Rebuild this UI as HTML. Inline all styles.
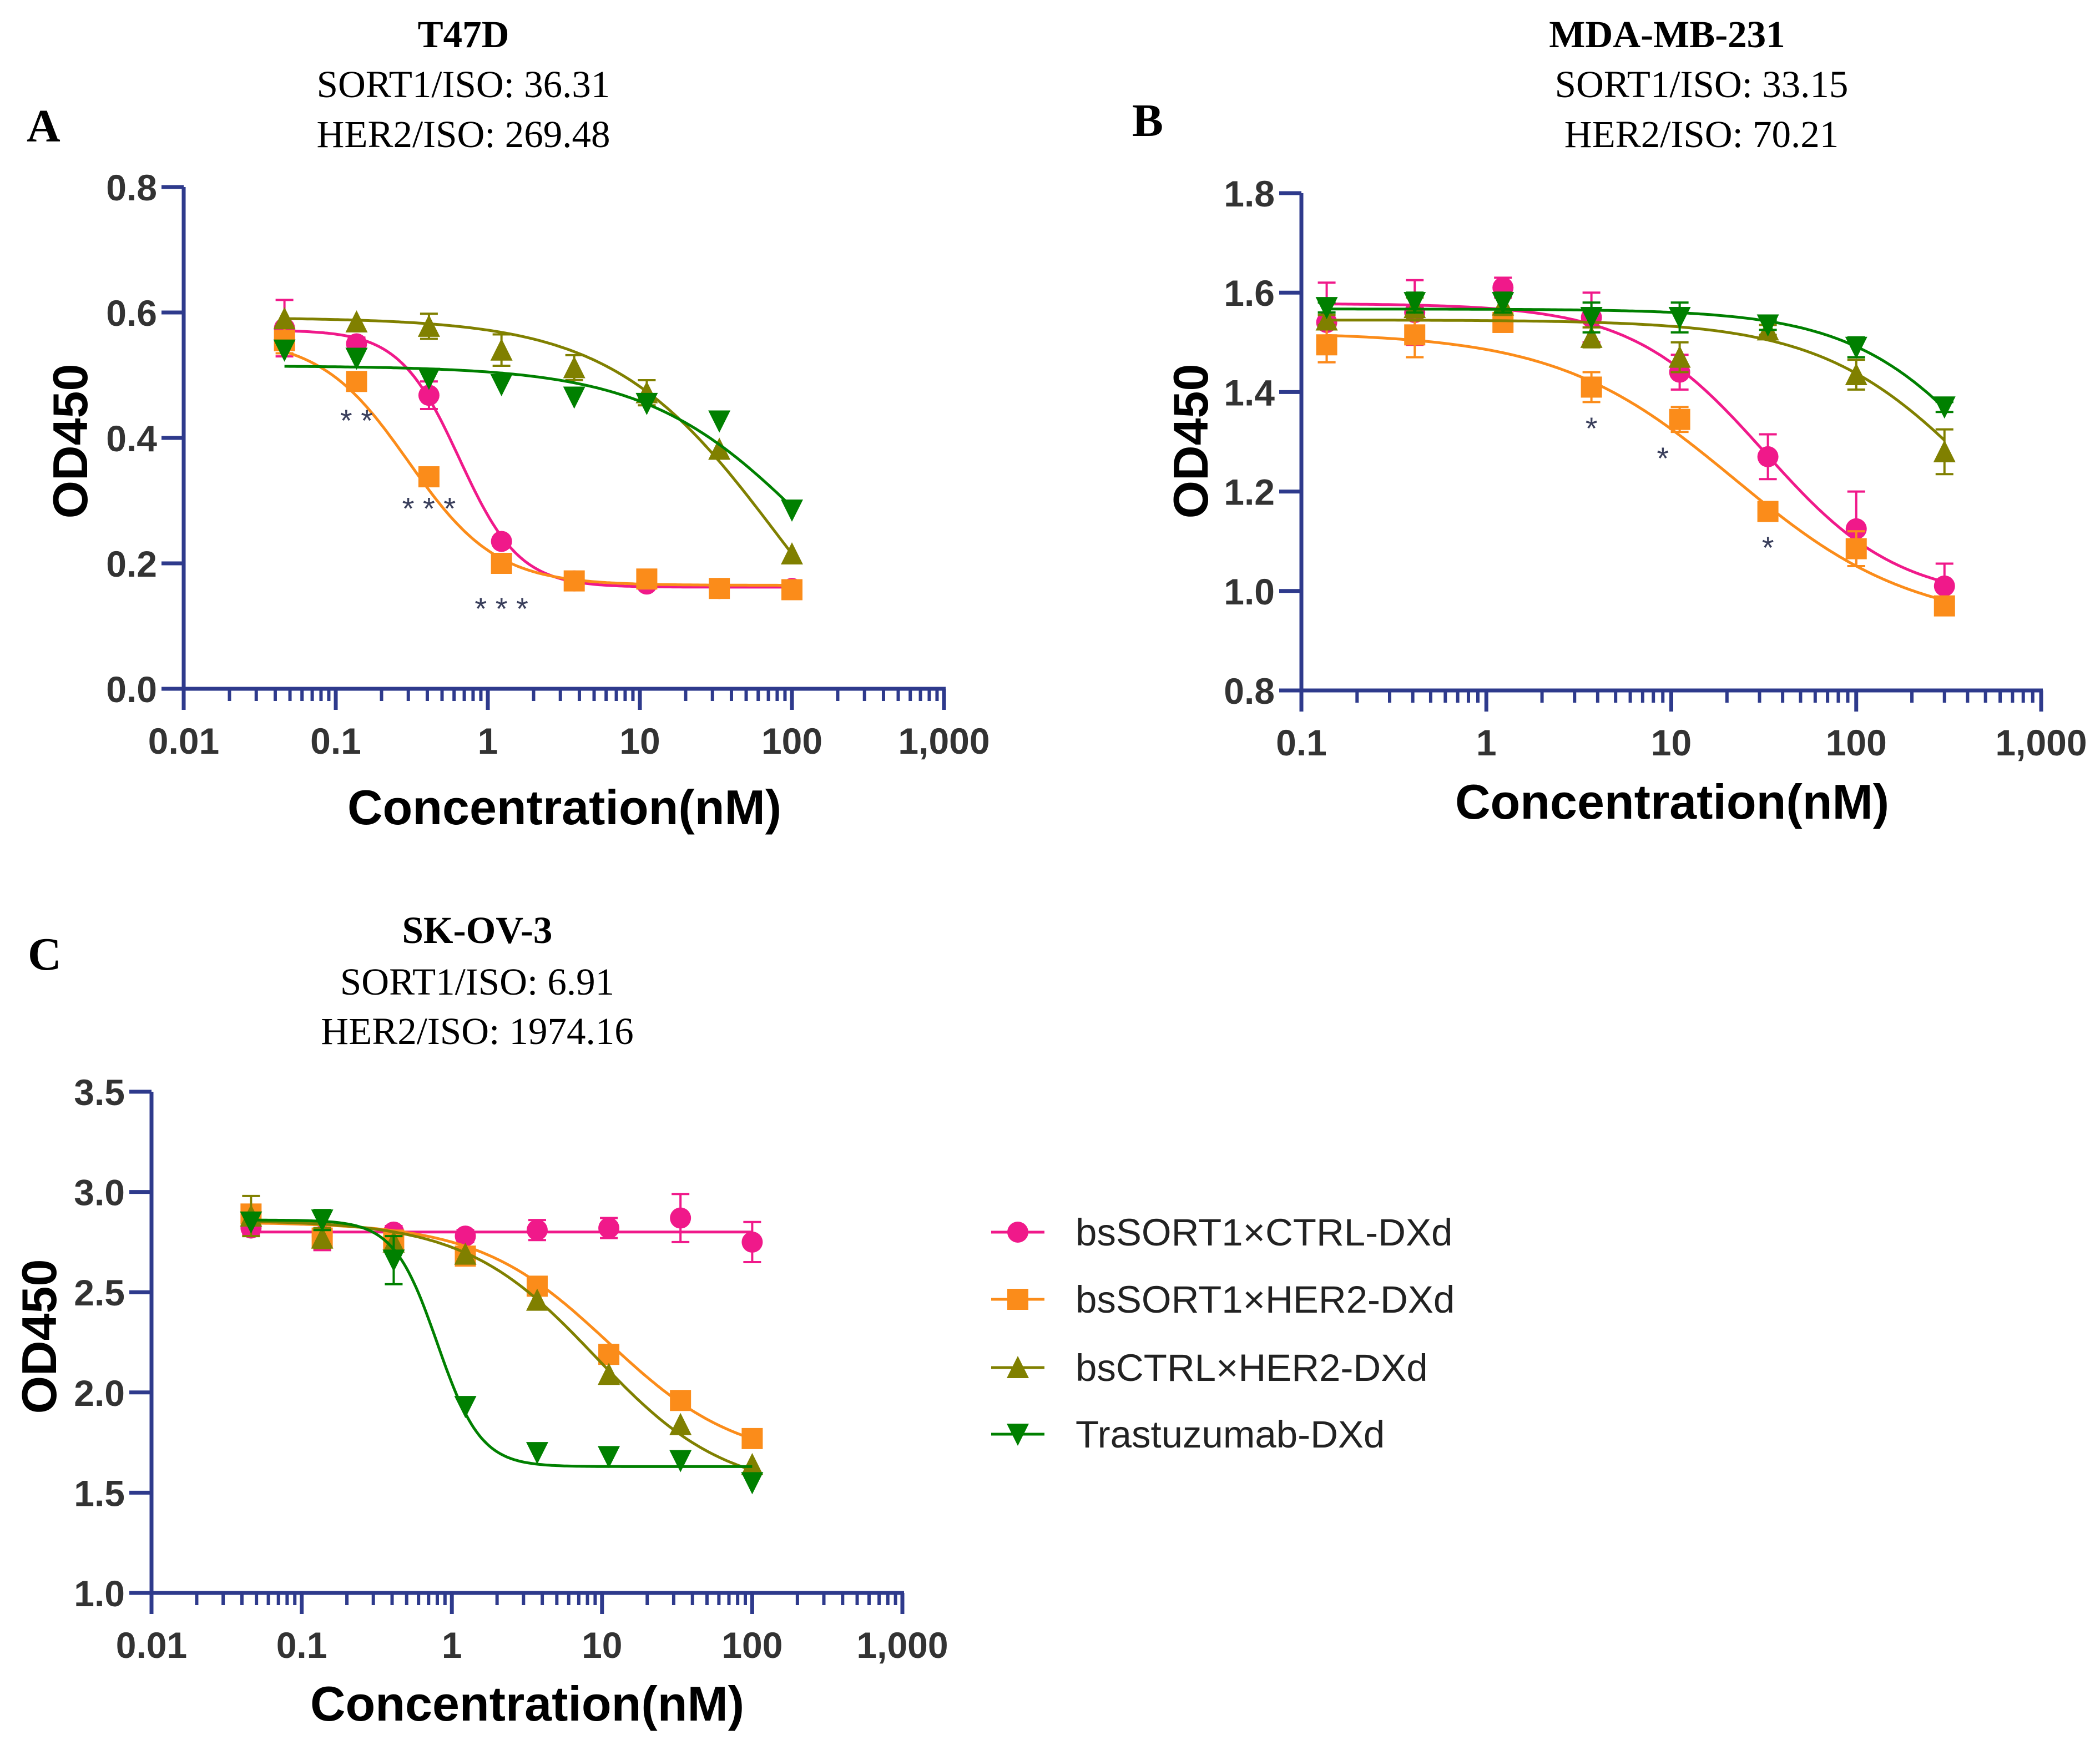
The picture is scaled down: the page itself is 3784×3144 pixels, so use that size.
<!DOCTYPE html>
<html><head><meta charset="utf-8">
<style>
html,body{margin:0;padding:0;background:#fff;}
svg{display:block;}
.tick{font-family:"Liberation Sans",Arial,sans-serif;font-weight:bold;font-size:66px;fill:#333;}
.axt{font-family:"Liberation Sans",Arial,sans-serif;font-weight:bold;font-size:88px;fill:#000;}
.ser{font-family:"Liberation Serif","Times New Roman",serif;font-size:69px;fill:#000;}
.serb{font-family:"Liberation Serif","Times New Roman",serif;font-size:69px;font-weight:bold;fill:#000;}
.let{font-family:"Liberation Serif","Times New Roman",serif;font-size:84px;font-weight:bold;fill:#000;}
.leg{font-family:"Liberation Sans",Arial,sans-serif;font-size:69px;fill:#222;}
.star{font-family:"Liberation Sans",Arial,sans-serif;font-size:56px;fill:#3a3f5c;}
</style></head>
<body>
<svg id="fig" width="3784" height="3144" viewBox="0 0 3784 3144" xmlns="http://www.w3.org/2000/svg">
<text class="let" x="48" y="255">A</text>
<text class="serb" x="835" y="85" text-anchor="middle">T47D</text>
<text class="ser" x="835" y="175" text-anchor="middle">SORT1/ISO: 36.31</text>
<text class="ser" x="835" y="265" text-anchor="middle">HER2/ISO: 269.48</text>
<text class="let" x="2040" y="245">B</text>
<text class="serb" x="3004" y="85" text-anchor="middle">MDA-MB-231</text>
<text class="ser" x="3066" y="175" text-anchor="middle">SORT1/ISO: 33.15</text>
<text class="ser" x="3066" y="265" text-anchor="middle">HER2/ISO: 70.21</text>
<text class="let" x="50" y="1747">C</text>
<text class="serb" x="860" y="1699" text-anchor="middle">SK-OV-3</text>
<text class="ser" x="860" y="1792" text-anchor="middle">SORT1/ISO: 6.91</text>
<text class="ser" x="860" y="1881" text-anchor="middle">HER2/ISO: 1974.16</text>
</svg>
<script>
// ---- data ----
const seriesNames = ["bsSORT1×CTRL-DXd","bsSORT1×HER2-DXd","bsCTRL×HER2-DXd","Trastuzumab-DXd"];
const seriesColors = ["#f0198a","#fb8c1a","#808000","#008000"];
const seriesShapes = ["circle","square","up","down"];

const concA = [0.046,0.137,0.41,1.23,3.7,11.1,33.3,100];
const aPink   = [0.575,0.55,0.468,0.235,0.172,0.167,0.16,0.16];
const aOrange = [0.555,0.49,0.338,0.2,0.172,0.175,0.16,0.158];
const aOlive  = [0.59,0.585,0.578,0.54,0.512,0.472,0.382,0.215];
const aGreen  = [0.54,0.527,0.495,0.485,0.465,0.455,0.427,0.285];
const aErrPink   = [0.045,0.01,0.022,0,0,0,0,0];
const aErrOrange = [0.02,0,0,0,0,0,0,0];
const aErrOlive  = [0,0,0.02,0.025,0.02,0.02,0,0];
const aErrGreen  = [0,0,0,0,0,0,0,0];
// 4PL fits: [top, bottom, ec50, hill]
const aFitPink=[0.572,0.162,0.65,2.2], aFitOrange=[0.56,0.165,0.3,1.5], aFitOlive=[0.592,-0.1,80,0.8], aFitGreen=[0.515,0,137,0.8];

const concB = [0.137,0.41,1.23,3.7,11.1,33.3,100,300];
const bPink   = [1.54,1.56,1.61,1.55,1.44,1.27,1.125,1.01];
const bOrange = [1.495,1.515,1.54,1.41,1.345,1.16,1.085,0.97];
const bOlive  = [1.545,1.57,1.575,1.51,1.47,1.525,1.435,1.28];
const bGreen  = [1.57,1.58,1.58,1.55,1.55,1.535,1.49,1.37];
const bErrPink   = [0.08,0.065,0.02,0.05,0.035,0.045,0.075,0.045];
const bErrOrange = [0.035,0.045,0.01,0.03,0.025,0.01,0.035,0.01];
const bErrOlive  = [0.01,0.02,0.02,0.02,0.03,0.01,0.03,0.045];
const bErrGreen  = [0.01,0.02,0.02,0.03,0.03,0.01,0.02,0.01];
const bFitPink=[1.578,0.98,32,1.2], bFitOrange=[1.52,0.93,22,0.9], bFitOlive=[1.545,0.9,500,1.0], bFitGreen=[1.567,0.9,650,1.1];

const concC = [0.046,0.137,0.41,1.23,3.7,11.1,33.3,100];
const cPink   = [2.82,2.78,2.8,2.78,2.81,2.82,2.87,2.75];
const cOrange = [2.89,2.77,2.76,2.68,2.53,2.19,1.96,1.77];
const cOlive  = [2.88,2.77,2.75,2.69,2.46,2.09,1.84,1.64];
const cGreen  = [2.85,2.86,2.66,1.93,1.7,1.68,1.66,1.55];
const cErrPink   = [0.03,0.07,0.03,0.03,0.05,0.05,0.12,0.1];
const cErrOrange = [0.03,0.05,0,0,0,0,0,0];
const cErrOlive  = [0.1,0.05,0,0,0,0,0,0];
const cErrGreen  = [0,0.05,0.12,0,0,0,0,0];
const cFitPink=[2.8,2.8,1,1], cFitOrange=[2.85,1.65,11,1.0], cFitOlive=[2.86,1.5,9,1.0], cFitGreen=[2.86,1.63,0.8,3.0];

const yTicksA=[0,0.2,0.4,0.6,0.8], yLabelsA=["0.0","0.2","0.4","0.6","0.8"];
const yTicksB=[0.8,1.0,1.2,1.4,1.6,1.8], yLabelsB=["0.8","1.0","1.2","1.4","1.6","1.8"];
const yTicksC=[1.0,1.5,2.0,2.5,3.0,3.5], yLabelsC=["1.0","1.5","2.0","2.5","3.0","3.5"];
const xDecA=[-2,-1,0,1,2,3], xLabelsA=["0.01","0.1","1","10","100","1,000"];
const xDecB=[-1,0,1,2,3], xLabelsB=["0.1","1","10","100","1,000"];
const xDecC=[-2,-1,0,1,2,3], xLabelsC=["0.01","0.1","1","10","100","1,000"];

const starsA=[{x:0.137,y:0.43,t:"* *"},{x:0.41,y:0.29,t:"* * *"},{x:1.23,y:0.13,t:"* * *"}];
const starsB=[{x:3.7,y:1.33,t:"*"},{x:9,y:1.27,t:"*"},{x:33.3,y:1.09,t:"*"}];

// ---- drawing ----
const NS="http://www.w3.org/2000/svg";
const svg=document.getElementById('fig');
const AX="#2e3a8c";
function el(tag,attrs,parent){const e=document.createElementNS(NS,tag);for(const k in attrs)e.setAttribute(k,attrs[k]);(parent||svg).appendChild(e);return e;}
function fourPL(p,x){return p[1]+(p[0]-p[1])/(1+Math.pow(x/p[2],p[3]));}

function panel(cfg){
  const g=el('g',{});
  
  
  const lx0=cfg.xDec[0], lx1=cfg.xDec[cfg.xDec.length-1];
  const X=v=>cfg.xL+(Math.log10(v)-lx0)/(lx1-lx0)*(cfg.xR-cfg.xL);
  const y0=cfg.yTicks[0], y1=cfg.yTicks[cfg.yTicks.length-1];
  const Y=v=>cfg.yB+(v-y0)/(y1-y0)*(cfg.yT-cfg.yB);
  const ya=el('line',{x1:cfg.xL,y1:cfg.yT,x2:cfg.xL,y2:cfg.yB+3.5,stroke:AX,'stroke-width':7},g);
  
  
  const xa=el('line',{x1:cfg.xL-40,y1:cfg.yB,x2:cfg.xR+3,y2:cfg.yB,stroke:AX,'stroke-width':7},g);
  
  
  cfg.yTicks.forEach((v,i)=>{
    el('line',{x1:cfg.xL-40,y1:Y(v),x2:cfg.xL,y2:Y(v),stroke:AX,'stroke-width':7},g);
    const t=el('text',{class:'tick',x:cfg.xL-48,y:Y(v)+24,'text-anchor':'end'},g);
    t.textContent=cfg.yLabels[i];
    
    
  });
  cfg.xDec.forEach((d,i)=>{
    const xp=X(Math.pow(10,d));
    el('line',{x1:xp,y1:cfg.yB,x2:xp,y2:cfg.yB+38,stroke:AX,'stroke-width':7},g);
    const t=el('text',{class:'tick',x:xp,y:cfg.yB+117,'text-anchor':'middle'},g);
    t.textContent=cfg.xLabels[i];
    
    
    if(i<cfg.xDec.length-1){for(let m=2;m<=9;m++){const mx=X(m*Math.pow(10,d));el('line',{x1:mx,y1:cfg.yB,x2:mx,y2:cfg.yB+22,stroke:AX,'stroke-width':6},g);}}
  });
  const xt=el('text',{class:'axt',x:cfg.xtX,y:cfg.xtY,'text-anchor':'middle'},g);
  xt.textContent="Concentration(nM)";
  
  
  const yt=el('text',{class:'axt',transform:`translate(${cfg.ytX},${cfg.ytY}) rotate(-90)`,'text-anchor':'middle'},g);
  yt.textContent="OD450";
  
  
  cfg.series.forEach((s,si)=>{
    const col=seriesColors[si];
    const sg=el('g',{},g);
    
    
    const c0=cfg.conc[0], c1=cfg.conc[cfg.conc.length-1];
    let d='';
    for(let k=0;k<=200;k++){const lv=Math.log10(c0)+k/200*(Math.log10(c1)-Math.log10(c0));const v=Math.pow(10,lv);d+=(k?'L':'M')+X(v).toFixed(1)+','+Y(fourPL(s.fit,v)).toFixed(1);}
    const cp=el('path',{d:d,fill:'none',stroke:col,'stroke-width':5},sg);
    
    
    cfg.conc.forEach((c,j)=>{
      const px=X(c), py=Y(s.vals[j]), e=s.err[j];
      if(e>0){
        el('path',{d:`M${px},${Y(s.vals[j]+e)}V${Y(s.vals[j]-e)}M${px-16},${Y(s.vals[j]+e)}h32M${px-16},${Y(s.vals[j]-e)}h32`,stroke:col,'stroke-width':4,fill:'none'},sg);
      }
      const m=marker(seriesShapes[si],px,py,col,sg);
      
      
    });
  });
  (cfg.stars||[]).forEach(st=>{
    const t=el('text',{class:'star',x:X(st.x),y:Y(st.y)+22,'text-anchor':'middle'},g);
    t.textContent=st.t;
    
    
  });
}
function marker(shape,x,y,col,parent){
  const r=19;
  if(shape==='circle')return el('circle',{cx:x,cy:y,r:r,fill:col},parent);
  if(shape==='square')return el('rect',{x:x-r,y:y-r,width:2*r,height:2*r,fill:col},parent);
  if(shape==='up')return el('polygon',{points:`${x},${y-r-2} ${x+r+1},${y+r} ${x-r-1},${y+r}`,fill:col},parent);
  return el('polygon',{points:`${x},${y+r+2} ${x+r+1},${y-r} ${x-r-1},${y-r}`,fill:col},parent);
}

panel({name:'panel-a-chart',xL:331,xR:1701,yT:337,yB:1241,xDec:xDecA,xLabels:xLabelsA,yTicks:yTicksA,yLabels:yLabelsA,
  xtX:1017,xtY:1485,ytX:157,ytY:795,conc:concA,stars:starsA,
  series:[{vals:aPink,err:aErrPink,fit:aFitPink},{vals:aOrange,err:aErrOrange,fit:aFitOrange},{vals:aOlive,err:aErrOlive,fit:aFitOlive},{vals:aGreen,err:aErrGreen,fit:aFitGreen}]});
panel({name:'panel-b-chart',xL:2345,xR:3678,yT:348,yB:1244,xDec:xDecB,xLabels:xLabelsB,yTicks:yTicksB,yLabels:yLabelsB,
  xtX:3013,xtY:1475,ytX:2176,ytY:795,conc:concB,stars:starsB,
  series:[{vals:bPink,err:bErrPink,fit:bFitPink},{vals:bOrange,err:bErrOrange,fit:bFitOrange},{vals:bOlive,err:bErrOlive,fit:bFitOlive},{vals:bGreen,err:bErrGreen,fit:bFitGreen}]});
panel({name:'panel-c-chart',xL:273,xR:1626,yT:1967,yB:2870,xDec:xDecC,xLabels:xLabelsC,yTicks:yTicksC,yLabels:yLabelsC,
  xtX:950,xtY:3100,ytX:101,ytY:2408,conc:concC,
  series:[{vals:cPink,err:cErrPink,fit:cFitPink},{vals:cOrange,err:cErrOrange,fit:cFitOrange},{vals:cOlive,err:cErrOlive,fit:cFitOlive},{vals:cGreen,err:cErrGreen,fit:cFitGreen}]});

const legY=[2220,2341,2464,2584];
const lg=el('g',{});


seriesNames.forEach((n,i)=>{
  const eg=el('g',{},lg);
  
  
  el('line',{x1:1786,y1:legY[i],x2:1882,y2:legY[i],stroke:seriesColors[i],'stroke-width':5},eg);
  marker(seriesShapes[i],1834,legY[i],seriesColors[i],eg);
  const t=el('text',{class:'leg',x:1938,y:legY[i]+24},eg);
  t.textContent=n;
});
</script>
</body></html>
